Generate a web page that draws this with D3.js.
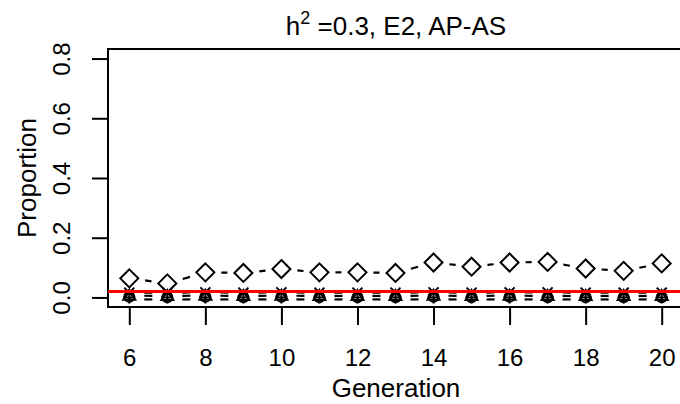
<!DOCTYPE html>
<html>
<head>
<meta charset="utf-8">
<script src="https://cdn.jsdelivr.net/npm/d3@7"></script>
<style>
body { margin: 0; background: #fff; }
text { font-family: "Liberation Sans", Arial, sans-serif; fill: #000; }
</style>
</head>
<body>
<script>
// data
var generations = [6, 7, 8, 9, 10, 11, 12, 13, 14, 15, 16, 17, 18, 19, 20];
var diamondVals = [0.064, 0.047, 0.084, 0.082, 0.095, 0.084, 0.084, 0.082, 0.117, 0.103, 0.117, 0.119, 0.097, 0.089, 0.114];
var crossVals = [0.016, 0.016, 0.017, 0.016, 0.017, 0.016, 0.016, 0.016, 0.017, 0.016, 0.017, 0.017, 0.016, 0.016, 0.016];
var triVals = [0.006, 0.005, 0.006, 0.005, 0.006, 0.005, 0.005, 0.005, 0.006, 0.005, 0.006, 0.005, 0.005, 0.005, 0.005];
var circVals = [0.002, 0.001, 0.002, 0.001, 0.002, 0.001, 0.001, 0.001, 0.002, 0.001, 0.002, 0.001, 0.001, 0.001, 0.001];
var plusVals = [0, 0, 0, 0, 0, 0, 0, 0, 0, 0, 0, 0, 0, 0, 0];
var refLine = 0.02;
var yTicks = [0, 0.2, 0.4, 0.6, 0.8];
var xTicks = [6, 8, 10, 12, 14, 16, 18, 20];

var w = 680, h = 404;
var pLeft = 108, pRight = 683, pTop = 49, pBottom = 307;

var svg = d3.select("body").append("svg")
	.attr("width", w)
	.attr("height", h);

var x = d3.scaleLinear().domain([5.44, 20.56]).range([pLeft, pRight]);
var y = d3.scaleLinear().domain([-0.032, 0.832]).range([pBottom, pTop]);

// box
svg.append("rect")
	.attr("x", pLeft).attr("y", pTop)
	.attr("width", pRight - pLeft).attr("height", pBottom - pTop)
	.attr("fill", "none").attr("stroke", "#000").attr("stroke-width", 2);

// y axis
var yAxis = svg.append("g")
	.attr("transform", "translate(" + pLeft + ",0)")
	.call(d3.axisLeft(y).tickValues(yTicks).tickSize(16).tickFormat(d3.format(".1f")));
yAxis.select(".domain").attr("stroke-width", 2)
	.attr("d", "M0," + y(0) + "V" + y(0.8));
yAxis.selectAll(".tick line").attr("stroke-width", 2);
yAxis.selectAll(".tick text")
	.attr("x", null).attr("dy", null)
	.attr("transform", "translate(-38,0) rotate(-90)")
	.attr("text-anchor", "middle")
	.style("font-size", "24px")
	.style("font-family", "Liberation Sans, Arial, sans-serif");

// x axis
var xAxis = svg.append("g")
	.attr("transform", "translate(0," + pBottom + ")")
	.call(d3.axisBottom(x).tickValues(xTicks).tickSize(18).tickFormat(d3.format("d")));
xAxis.select(".domain").attr("stroke-width", 2)
	.attr("d", "M" + x(6) + ",0H" + x(20));
xAxis.selectAll(".tick line").attr("stroke-width", 2);
xAxis.selectAll(".tick text")
	.attr("y", 59).attr("dy", null)
	.style("font-size", "24px")
	.style("font-family", "Liberation Sans, Arial, sans-serif");

// labels
svg.append("text")
	.attr("x", 396).attr("y", 397)
	.attr("text-anchor", "middle")
	.style("font-size", "26px")
	.text("Generation");
svg.append("text")
	.attr("transform", "translate(36," + (pBottom + pTop) / 2 + ") rotate(-90)")
	.attr("text-anchor", "middle")
	.style("font-size", "26px")
	.text("Proportion");

var title = svg.append("text")
	.attr("x", 396).attr("y", 35)
	.attr("text-anchor", "middle")
	.style("font-size", "26px");
title.append("tspan").text("h");
title.append("tspan").attr("dy", -11).style("font-size", "18px").text("2");
title.append("tspan").attr("dy", 11).text(" =0.3, E2, AP-AS");

// dashed connectors with gaps round the points (type = "b")
function connect(vals, gap, offset) {
	for (var i = 0; i < vals.length - 1; i++) {
		var x1 = x(generations[i]), y1 = y(vals[i]) + offset;
		var x2 = x(generations[i + 1]), y2 = y(vals[i + 1]) + offset;
		var len = Math.sqrt((x2 - x1) * (x2 - x1) + (y2 - y1) * (y2 - y1));
		if (len <= 2 * gap) continue;
		var ux = (x2 - x1) / len, uy = (y2 - y1) / len;
		svg.append("line")
			.attr("x1", x1 + ux * gap).attr("y1", y1 + uy * gap)
			.attr("x2", x2 - ux * gap).attr("y2", y2 - uy * gap)
			.attr("stroke", "#000").attr("stroke-width", 2.2);
	}
}

function marks(vals, path) {
	svg.selectAll(null)
		.data(vals)
		.enter().append("path")
		.attr("d", path)
		.attr("transform", function(d, i) { return "translate(" + x(generations[i]) + "," + y(d) + ")"; })
		.attr("fill", "none").attr("stroke", "#000").attr("stroke-width", 2);
}

var diamond = "M0,-9L9,0L0,9L-9,0Z";
var cross = "M-5,-5L5,5M-5,5L5,-5";
var tri = "M0,-6L6,4L-6,4Z";
var circ = "M5,0A5,5 0 1,1 -5,0A5,5 0 1,1 5,0";
var plus = "M-6,0H6M0,-6V6";

connect(plusVals, 15, 2);
connect(triVals, 15, 0);
connect(crossVals, 15, 0);
connect(diamondVals, 16, 0);

marks(plusVals, plus);
marks(circVals, circ);
marks(triVals, tri);
marks(crossVals, cross);
marks(diamondVals, diamond);

// reference line
svg.append("line")
	.attr("x1", pLeft).attr("x2", pRight)
	.attr("y1", y(refLine)).attr("y2", y(refLine))
	.attr("stroke", "red").attr("stroke-width", 3);
</script>
</body>
</html>
